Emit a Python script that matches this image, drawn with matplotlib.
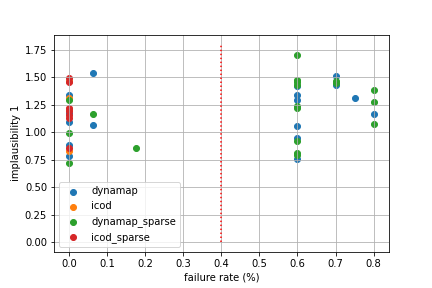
import matplotlib
matplotlib.use("Agg")
import matplotlib.pyplot as plt

# failure rate / implausibility per method
dyn_x = [0.0, 0.0, 0.0, 0.0, 0.0, 0.0625, 0.0625, 0.6, 0.6, 0.6, 0.6, 0.6, 0.6, 0.7, 0.7, 0.75, 0.8]
dyn_y = [1.34, 1.09, 0.88, 0.78, 1.18, 1.54, 1.07, 1.34, 1.29, 1.06, 0.945, 0.76, 1.42, 1.51, 1.43, 1.31, 1.17]

icod_x = [0.0, 0.0, 0.0, 0.0]
icod_y = [1.31, 0.83, 1.20, 1.47]

dsp_x = [0.0, 0.0, 0.0, 0.0625, 0.175, 0.6, 0.6, 0.6, 0.6, 0.6, 0.6, 0.6, 0.6, 0.6, 0.7, 0.7, 0.8, 0.8, 0.8]
dsp_y = [1.29, 0.99, 0.72, 1.17, 0.854, 1.705, 1.48, 1.46, 1.43, 1.22, 0.92, 0.81, 0.79, 1.24, 1.47, 1.45, 1.385, 1.276, 1.08]

isp_x = [0.0, 0.0, 0.0, 0.0, 0.0, 0.0, 0.0]
isp_y = [1.49, 1.46, 1.22, 1.19, 1.16, 1.13, 0.86]

fig, ax = plt.subplots(figsize=(6, 4), dpi=72)
fig.subplots_adjust(bottom=0.125)
ax.scatter(dyn_x, dyn_y, label="dynamap")
ax.scatter(icod_x, icod_y, label="icod")
ax.scatter(dsp_x, dsp_y, label="dynamap_sparse")
ax.scatter(isp_x, isp_y, label="icod_sparse")
ax.vlines(0.4, 0, 1.8, colors="red", linestyles="dotted")
ax.set_xlabel("failure rate (%)")
ax.set_ylabel("implausibility 1")
ax.grid(True)
ax.legend(loc="lower left")
fig.savefig("out.png", dpi=72)
